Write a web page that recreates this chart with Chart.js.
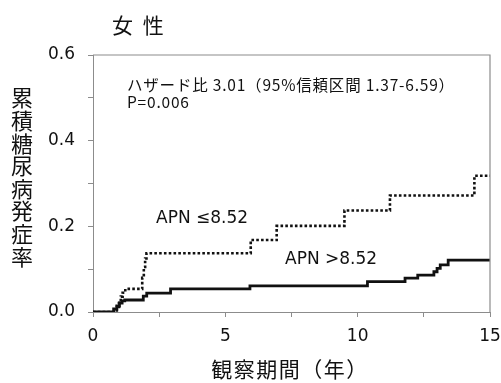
<!DOCTYPE html>
<html>
<head>
<meta charset="utf-8">
<script src="https://cdn.jsdelivr.net/npm/chart.js@4"></script>
<style>
html,body{margin:0;padding:0;background:#fff;}
#wrap{width:501px;height:383px;position:relative;}
</style>
</head>
<body>
<div id="wrap"><canvas id="c" width="501" height="383"></canvas></div>
<script>
// Cumulative incidence after each event time (step function)
const lowTimes  = [0, 0.90, 0.98, 1.05, 1.12, 1.22, 1.86, 1.92, 1.97, 2.02, 5.96, 6.94, 9.50, 11.22, 14.41, 15];
const lowValues = [0, 0.012, 0.024, 0.036, 0.045, 0.054, 0.080, 0.105, 0.125, 0.137, 0.168, 0.201, 0.237, 0.272, 0.318, 0.318];

const highTimes  = [0, 0.78, 0.90, 1.00, 1.10, 1.20, 1.90, 2.03, 2.93, 5.93, 10.37, 11.79, 12.27, 12.88, 13.00, 13.12, 13.42, 15];
const highValues = [0, 0.007, 0.014, 0.021, 0.026, 0.028, 0.037, 0.044, 0.054, 0.061, 0.071, 0.079, 0.086, 0.094, 0.102, 0.110, 0.121, 0.121];

const xTicks = [0, 5, 10, 15];
const yTicks = [0.0, 0.2, 0.4, 0.6];

const titleText = '女 性';
const yTitleText = '累積糖尿病発症率';
const xTitleText = '観察期間（年）';
const noteLine1 = 'ハザード比 3.01（95%信頼区間 1.37-6.59）';
const noteLine2 = 'P=0.006';
const lowLabel = 'APN ≤8.52';
const highLabel = 'APN >8.52';

const toPts = (xs, ys) => xs.map((x, i) => ({x: x, y: ys[i]}));

const AX = '#8c8c8c';
const LATIN = '"DejaVu Sans", Verdana, sans-serif';
const CJK = '"Noto Sans CJK JP", sans-serif';

const textPlugin = {
  id: 'texts',
  afterDraw(chart) {
    const {ctx, chartArea: a} = chart;
    ctx.save();
    // frame (top and right)
    ctx.strokeStyle = AX;
    ctx.lineWidth = 1.2;
    ctx.beginPath();
    ctx.moveTo(a.left, a.top);
    ctx.lineTo(a.right, a.top);
    ctx.lineTo(a.right, a.bottom);
    ctx.stroke();

    ctx.fillStyle = '#111';
    ctx.textBaseline = 'middle';
    // title
    ctx.font = '21px ' + CJK;
    ctx.textAlign = 'left';
    ctx.letterSpacing = '2.5px';
    ctx.fillText(titleText, 112, 25);
    ctx.letterSpacing = '0px';
    // vertical y-axis title
    ctx.font = '22px ' + CJK;
    ctx.textAlign = 'center';
    Array.from(yTitleText).forEach((ch, i) => ctx.fillText(ch, 22, 98 + i * 22.6));
    // x-axis title
    ctx.font = '21px ' + CJK;
    ctx.letterSpacing = '1.5px';
    ctx.fillText(xTitleText, 290, 369);
    // notes
    ctx.textAlign = 'left';
    ctx.font = '15.5px ' + CJK;
    ctx.letterSpacing = '0.8px';
    ctx.fillText(noteLine1, 127, 85);
    ctx.fillText(noteLine2, 127, 102);
    ctx.letterSpacing = '0px';
    // series labels
    ctx.font = '17px ' + LATIN;
    ctx.fillText(lowLabel, 156, 219);
    ctx.fillText(highLabel, 285, 260);
    ctx.restore();
  }
};

new Chart(document.getElementById('c'), {
  type: 'line',
  data: {
    datasets: [
      {
        label: lowLabel,
        data: toPts(lowTimes, lowValues),
        stepped: true,
        borderColor: '#111',
        borderWidth: 2.6,
        borderDash: [2.6, 2.2],
        pointRadius: 0,
        fill: false
      },
      {
        label: highLabel,
        data: toPts(highTimes, highValues),
        stepped: true,
        borderColor: '#111',
        borderWidth: 2.8,
        pointRadius: 0,
        fill: false
      }
    ]
  },
  options: {
    responsive: false,
    animation: false,
    devicePixelRatio: 1,
    layout: {padding: {left: 0, right: 11, top: 55, bottom: 0}},
    plugins: {legend: {display: false}, tooltip: {enabled: false}, title: {display: false}},
    scales: {
      x: {
        type: 'linear',
        min: 0, max: 15,
        afterFit(s) { s.height = 71; s.paddingLeft = 0; s.paddingRight = 0; },
        afterBuildTicks(s) {
          const t = [];
          for (let v = 0; v <= 15.0001; v += 2.5) t.push({value: v});
          s.ticks = t;
        },
        ticks: {
          color: '#111',
          font: {family: LATIN, size: 17},
          padding: 9,
          maxRotation: 0,
          autoSkip: false,
          callback: (v) => xTicks.includes(v) ? String(v) : ''
        },
        grid: {drawOnChartArea: false, drawTicks: true, tickLength: 5, color: AX},
        border: {color: AX, width: 1}
      },
      y: {
        type: 'linear',
        min: 0, max: 0.6,
        afterFit(s) { s.width = 93; s.paddingTop = 0; s.paddingBottom = 0; },
        afterBuildTicks(s) {
          const t = [];
          for (let i = 0; i <= 6; i++) t.push({value: i / 10});
          s.ticks = t;
        },
        ticks: {
          color: '#111',
          font: {family: LATIN, size: 17},
          padding: 13,
          autoSkip: false,
          callback: (v) => {
            const m = yTicks.find(y => Math.abs(y - v) < 1e-6);
            return m !== undefined ? m.toFixed(1) : '';
          }
        },
        grid: {drawOnChartArea: false, drawTicks: true, tickLength: 5, color: AX},
        border: {color: AX, width: 1}
      }
    }
  },
  plugins: [textPlugin]
});
</script>
</body>
</html>
